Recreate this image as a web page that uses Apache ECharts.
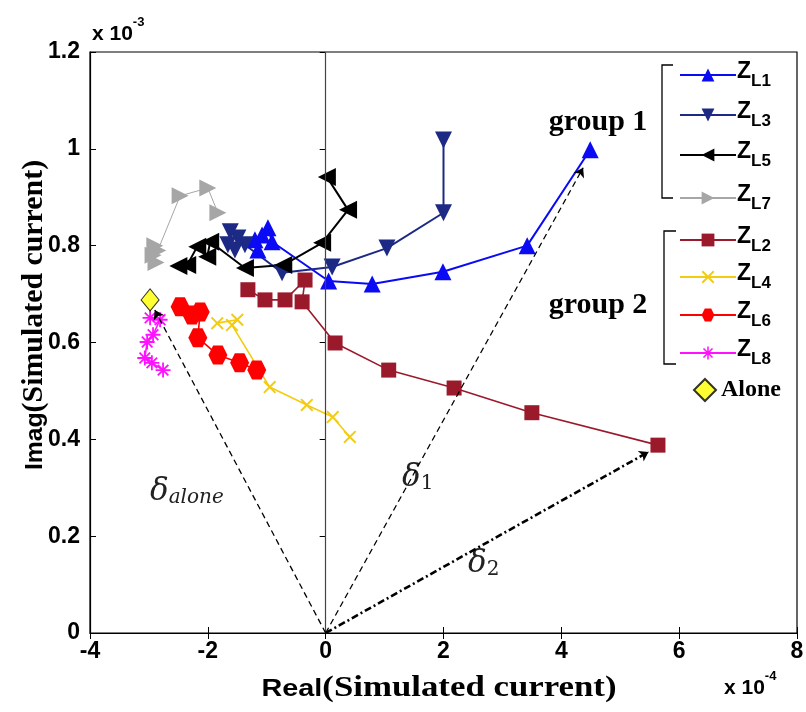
<!DOCTYPE html>
<html><head><meta charset="utf-8">
<script src="https://cdn.jsdelivr.net/npm/echarts@6/dist/echarts.min.js"></script>
<style>html,body{margin:0;padding:0;background:#fff}#c{width:806px;height:712px}</style>
</head><body><div id="c"></div>
<script>
// Values: x in units of 1e-4, y in units of 1e-3
const zL1 = [[4.49,0.998],[3.42,0.80],[1.99,0.746],[0.79,0.721],[0.05,0.727],[-0.91,0.808],[-0.98,0.837],[-1.08,0.822],[-1.2,0.812],[-1.15,0.791]];
const zL3 = [[2.0,1.018],[2.0,0.868],[1.04,0.795],[0.11,0.756],[-0.74,0.744],[-1.37,0.802],[-1.49,0.816],[-1.62,0.829],[-1.66,0.802],[-1.54,0.791]];
const zL5 = [[0.02,0.942],[0.38,0.874],[-0.06,0.806],[-0.72,0.760],[-1.37,0.754],[-1.96,0.808],[-2.01,0.777],[-2.18,0.798],[-2.35,0.760],[-2.5,0.758]];
const zL7 = [[-1.83,0.868],[-2.0,0.919],[-2.47,0.903],[-2.85,0.79],[-2.9,0.80],[-2.93,0.78],[-2.88,0.765]];
const zL2 = [[5.64,0.388],[3.5,0.455],[2.18,0.506],[1.07,0.543],[0.16,0.599],[-0.40,0.684],[-0.35,0.729],[-0.69,0.688],[-1.03,0.688],[-1.32,0.709]];
const zL4 = [[0.41,0.405],[0.12,0.446],[-0.32,0.471],[-0.95,0.508],[-1.59,0.636],[-1.5,0.647],[-1.84,0.640]];
const zL6 = [[-1.17,0.543],[-1.46,0.558],[-1.83,0.574],[-2.17,0.610],[-2.13,0.663],[-2.27,0.657],[-2.47,0.674]];
const zL8 = [[-2.98,0.651],[-2.81,0.647],[-2.93,0.616],[-3.03,0.601],[-3.07,0.568],[-2.95,0.558],[-2.76,0.543]];
const alone = [[-2.98,0.688]];
const deltaEnds = [[4.37,0.961],[5.48,0.374],[-2.9,0.667]];
const xTicks = ['-4','-2','0','2','4','6','8'];
const yTicks = ['0','0.2','0.4','0.6','0.8','1','1.2'];
const seriesNames = ['ZL1','ZL3','ZL5','ZL7','ZL2','ZL4','ZL6','ZL8','Alone'];
const seriesSubs = ['L1','L3','L5','L7','L2','L4','L6','L8',''];

const hexPath = 'path://M-1,0 L-0.5,-0.866 L0.5,-0.866 L1,0 L0.5,0.866 L-0.5,0.866 Z';
const diagPath = 'M-0.79,-0.62 L-0.62,-0.79 L0.79,0.62 L0.62,0.79 Z M0.62,-0.79 L0.79,-0.62 L-0.62,0.79 L-0.79,0.62 Z';
const xPath = 'path://' + diagPath;
const starPath = 'path://M-0.12,-1 L0.12,-1 L0.12,1 L-0.12,1 Z M-1,-0.12 L1,-0.12 L1,0.12 L-1,0.12 Z ' + diagPath;

function lineSeries(name, data, color, symbol, size, rotate, width) {
  return {name, type:'line', data, symbol, symbolSize:size, symbolRotate:rotate||0,
    itemStyle:{color}, lineStyle:{color, width:width||2}, z:3, animation:false};
}
const series = [
  lineSeries('ZL1', zL1, '#0a0af5', 'triangle', 17, 0, 2),
  lineSeries('ZL3', zL3, '#1c2a86', 'triangle', 17, 180, 2),
  lineSeries('ZL5', zL5, '#000000', 'triangle', 18, 90, 2),
  lineSeries('ZL7', zL7, '#a6a6a6', 'triangle', 17, -90, 1),
  lineSeries('ZL2', zL2, '#9a1a2c', 'rect', 15, 0, 1.6),
  lineSeries('ZL4', zL4, '#f2cc10', xPath, 13, 0, 1.6),
  lineSeries('ZL6', zL6, '#ff0000', hexPath, 19, 0, 1.6),
  lineSeries('ZL8', zL8, '#ff10ff', starPath, 15, 0, 1.6),
  {name:'Alone', type:'scatter', data:alone, symbol:'diamond', symbolSize:[18,22],
   itemStyle:{color:'#ffff00', borderColor:'#000', borderWidth:1}, z:4, animation:false},
  {type:'lines', coordinateSystem:'cartesian2d', z:5, animation:false,
   symbol:['none','arrow'], symbolSize:9,
   data:[
     {coords:[[0,0],deltaEnds[0]], lineStyle:{type:[6,4], width:1.3, color:'#000', opacity:1}},
     {coords:[[0,0],deltaEnds[1]], lineStyle:{type:[7,3,2,3], width:2.6, color:'#000', opacity:1}},
     {coords:[[0,0],deltaEnds[2]], lineStyle:{type:[6,4], width:1.3, color:'#000', opacity:1}}
   ]},
  {type:'line', data:[], markLine:{silent:true, symbol:'none', label:{show:false},
    lineStyle:{type:'solid', color:'#444', width:1.2}, data:[{xAxis:0}]}, animation:false}
];

const legendY = [68,108,148,191,233,270,308,346,388];
const legends = seriesNames.map((n,i)=>({
  data:[n], orient:'vertical', left: i===8 ? 688 : 674, top: legendY[i]-15,
  itemWidth: i===8 ? 22 : 56, itemHeight: i===8 ? 22 : 16, itemGap:0, selectedMode:false,
  formatter: (name)=> i===8 ? '{al|Alone}' : '{z|Z}{s|'+seriesSubs[i]+'}',
  textStyle:{padding:[0,0,0,-4], rich:{
    z:{fontFamily:'Liberation Sans', fontWeight:'bold', fontSize:23, color:'#000', verticalAlign:'top', lineHeight:30},
    s:{fontFamily:'Liberation Sans', fontWeight:'bold', fontSize:17, color:'#000', verticalAlign:'bottom', padding:[15,0,0,0], lineHeight:30},
    al:{fontFamily:'Liberation Serif', fontWeight:'bold', fontSize:24, color:'#000', padding:[0,0,0,4]}
  }}
}));

const chart = echarts.init(document.getElementById('c'), null, {renderer:'canvas'});
const labelFont = {fontFamily:'Liberation Sans', fontWeight:'bold', fontSize:23, color:'#000'};
const nameRich = {
  a:{fontFamily:'Liberation Sans Narrow, Liberation Sans', fontWeight:'bold', fontSize:24, fill:'#000'},
  b:{fontFamily:'Liberation Serif', fontWeight:'bold', fontSize:29, fill:'#000'}};
chart.setOption({
  animation:false,
  backgroundColor:'#fff',
  grid:{left:90, right:9, top:52, bottom:79, containLabel:false, outerBoundsMode:'none',
        show:true, borderColor:'#000', borderWidth:1.2, backgroundColor:'transparent'},
  legend: legends,
  xAxis:[{type:'value', min:-4, max:8, interval:2, position:'bottom',
    axisLine:{onZero:false, lineStyle:{color:'#000', width:1.2}},
    axisTick:{inside:true, length:6, lineStyle:{color:'#000'}},
    axisLabel:Object.assign({margin:7, formatter:(v)=>xTicks[Math.round((v+4)/2)]}, labelFont),
    splitLine:{show:false}},
   {type:'value', min:-4, max:8, interval:2, position:'top',
    axisLine:{show:false}, axisTick:{inside:true, length:6, lineStyle:{color:'#000'}},
    axisLabel:{show:false}, splitLine:{show:false}}],
  yAxis:[{type:'value', min:0, max:1.2, interval:0.2, position:'left',
    axisLine:{onZero:false, lineStyle:{color:'#000', width:1.2}},
    axisTick:{inside:true, length:6, lineStyle:{color:'#000'}},
    axisLabel:Object.assign({margin:10, formatter:(v)=>yTicks[Math.round(v/0.2)]}, labelFont),
    splitLine:{show:false}},
   {type:'value', min:0, max:1.2, interval:0.2, position:'right',
    axisLine:{show:false}, axisTick:{inside:true, length:6, lineStyle:{color:'#000'}},
    axisLabel:{show:false}, splitLine:{show:false}}],
  series: series,
  graphic:[
    {type:'text', x:439, y:689, scaleX:1.2, style:{text:'{a|Real}{b|(Simulated current)}', rich:nameRich, textAlign:'center', textVerticalAlign:'middle'}},
    {type:'text', x:35, y:315, scaleX:1.03, rotation:Math.PI/2, style:{text:'{a|Imag}{b|(Simulated current)}', rich:nameRich, textAlign:'center', textVerticalAlign:'middle'}},
    {type:'text', left:92, top:16, style:{text:'{a|x 10}{b|-3}', rich:{
      a:{fontFamily:'Liberation Sans', fontSize:21, fontWeight:'bold', fill:'#000', padding:[8,0,0,0]},
      b:{fontFamily:'Liberation Sans', fontSize:13, fontWeight:'bold', fill:'#000', verticalAlign:'top'}}}},
    {type:'text', left:724, top:670, style:{text:'{a|x 10}{b|-4}', rich:{
      a:{fontFamily:'Liberation Sans', fontSize:21, fontWeight:'bold', fill:'#000', padding:[8,0,0,0]},
      b:{fontFamily:'Liberation Sans', fontSize:13, fontWeight:'bold', fill:'#000', verticalAlign:'top'}}}},
    {type:'text', x:598, y:122, style:{text:'group 1', font:'bold 30px "Liberation Serif"', fill:'#000', textAlign:'center', textVerticalAlign:'middle'}},
    {type:'text', x:598, y:305, style:{text:'group 2', font:'bold 30px "Liberation Serif"', fill:'#000', textAlign:'center', textVerticalAlign:'middle'}},
    {type:'polyline', shape:{points:[[673,65],[662,65],[662,198],[673,198]]}, style:{stroke:'#000', lineWidth:1.3, fill:null}},
    {type:'polyline', shape:{points:[[676,231],[664,231],[664,364],[676,364]]}, style:{stroke:'#000', lineWidth:1.3, fill:null}},
    {type:'text', left:402, top:462, style:{text:'{d|δ}{s|1}', rich:{
      d:{fontFamily:'DejaVu Serif', fontStyle:'italic', fontSize:31, fill:'#222'},
      s:{fontFamily:'DejaVu Serif', fontSize:20, fill:'#222', padding:[13,0,0,0]}}}},
    {type:'text', left:468, top:548, style:{text:'{d|δ}{s|2}', rich:{
      d:{fontFamily:'DejaVu Serif', fontStyle:'italic', fontSize:31, fill:'#222'},
      s:{fontFamily:'DejaVu Serif', fontSize:20, fill:'#222', padding:[13,0,0,0]}}}},
    {type:'text', left:150, top:476, style:{text:'{d|δ}{s|alone}', rich:{
      d:{fontFamily:'DejaVu Serif', fontStyle:'italic', fontSize:31, fill:'#222'},
      s:{fontFamily:'DejaVu Serif', fontStyle:'italic', fontSize:20, fill:'#222', padding:[13,0,0,0]}}}}
  ]
});
</script></body></html>
